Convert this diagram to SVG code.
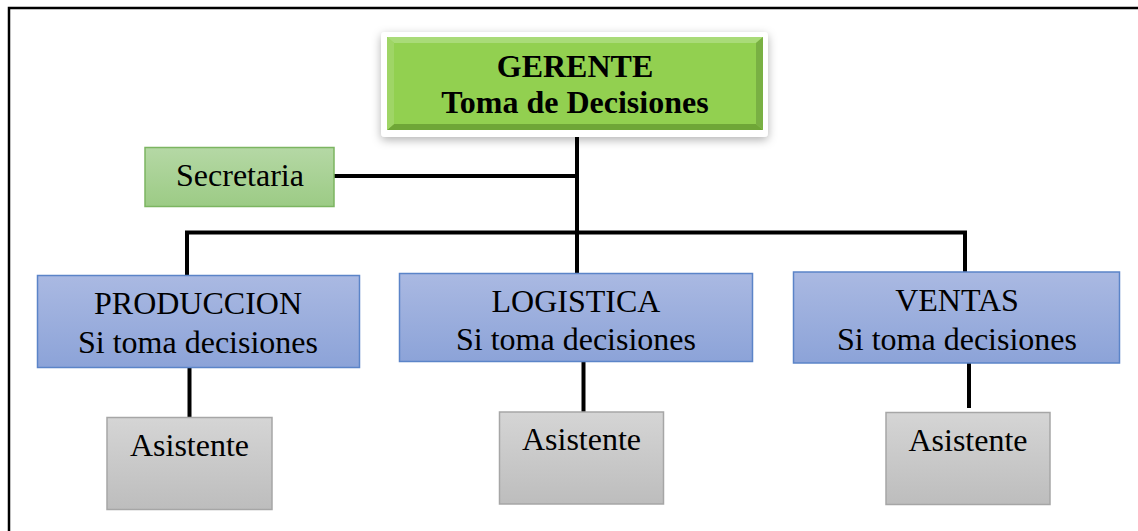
<svg xmlns="http://www.w3.org/2000/svg" width="1138" height="531" viewBox="0 0 1138 531">
<style>
text{font-family:"Liberation Serif","Times New Roman",serif;font-size:32px;fill:#000;text-anchor:middle}
.b{font-weight:bold;font-size:32px}
.blue{fill:url(#gBlue);stroke:#5b84c8;stroke-width:1.5}
.gray{fill:url(#gGray);stroke:#a6a6a6;stroke-width:1.5}
.conn line{stroke:#000;stroke-width:4}
</style>
<defs>
<linearGradient id="gBlue" x1="0" y1="0" x2="0" y2="1"><stop offset="0" stop-color="#aab9e2"/><stop offset="1" stop-color="#8ca3d8"/></linearGradient>
<linearGradient id="gGray" x1="0" y1="0" x2="0" y2="1"><stop offset="0" stop-color="#d5d5d5"/><stop offset="1" stop-color="#bdbdbd"/></linearGradient>
<linearGradient id="gSec" x1="0" y1="0" x2="0" y2="1"><stop offset="0" stop-color="#b5d8a5"/><stop offset="1" stop-color="#9ccb85"/></linearGradient>
<filter id="sh" x="-10%" y="-30%" width="120%" height="160%"><feDropShadow dx="0" dy="3" stdDeviation="5" flood-color="#000" flood-opacity="0.3"/></filter>
</defs>
<rect width="1138" height="531" fill="#fff"/>
<path d="M9 531 V8 H1138" fill="none" stroke="#000" stroke-width="2.5"/>
<g id="connectors" class="conn">
<line x1="577" y1="136" x2="577" y2="274"/>
<line x1="333" y1="176" x2="577" y2="176"/>
<line x1="185" y1="232.5" x2="967" y2="232.5"/>
<line x1="187" y1="231" x2="187" y2="276"/>
<line x1="965" y1="231" x2="965" y2="272"/>
<line x1="189.5" y1="368" x2="189.5" y2="417"/>
<line x1="583.5" y1="362" x2="583.5" y2="412"/>
<line x1="969" y1="362" x2="969" y2="408"/>
</g>
<g id="gerente">
<rect x="381" y="32" width="387" height="105" rx="4" fill="#fff" filter="url(#sh)"/>
<rect x="387" y="37" width="376" height="93" fill="#92d050"/>
<polygon points="387,37 763,37 756,43 394,43" fill="#a9db78"/>
<polygon points="387,130 763,130 756,124 394,124" fill="#6fa637"/>
<polygon points="387,37 394,43 394,124 387,130" fill="#9fd566"/>
<polygon points="763,37 756,43 756,124 763,130" fill="#79b043"/>
<text class="b" x="575" y="77">GERENTE</text>
<text class="b" x="575" y="113">Toma de Decisiones</text>
</g>
<g id="secretaria">
<rect x="145" y="147.5" width="189" height="59" fill="url(#gSec)" stroke="#7cb561" stroke-width="1.5"/>
<text x="240" y="186">Secretaria</text>
</g>
<g id="produccion">
<rect class="blue" x="37.5" y="275.5" width="322" height="92"/>
<text x="198" y="314">PRODUCCION</text>
<text x="198" y="353">Si toma decisiones</text>
</g>
<g id="logistica">
<rect class="blue" x="399.5" y="273.5" width="353" height="88"/>
<text x="576" y="312">LOGISTICA</text>
<text x="576" y="350">Si toma decisiones</text>
</g>
<g id="ventas">
<rect class="blue" x="793.5" y="272" width="326" height="91"/>
<text x="957" y="311">VENTAS</text>
<text x="957" y="350">Si toma decisiones</text>
</g>
<g id="asistente1">
<rect class="gray" x="107" y="417.5" width="165" height="92"/>
<text x="189.5" y="456">Asistente</text>
</g>
<g id="asistente2">
<rect class="gray" x="499.5" y="412" width="164" height="92"/>
<text x="581.5" y="450">Asistente</text>
</g>
<g id="asistente3">
<rect class="gray" x="886" y="412.5" width="164" height="92"/>
<text x="968" y="451">Asistente</text>
</g>
</svg>
